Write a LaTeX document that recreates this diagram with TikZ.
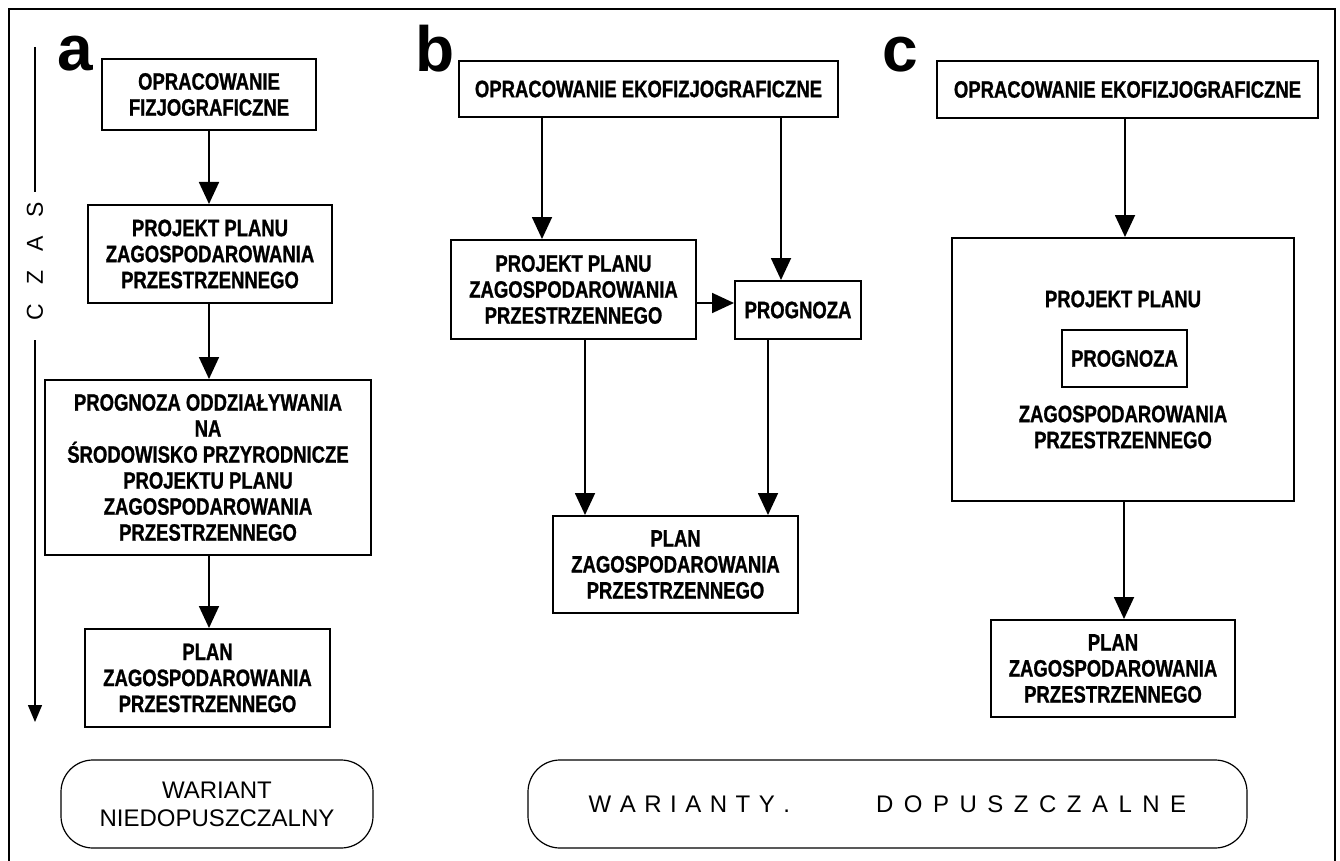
\documentclass[tikz,border=0pt]{standalone}
\usepackage{fontspec}
\setmainfont{Liberation Sans}
\newfontfamily\cnd[FakeStretch=0.78,FakeBold=1.0]{Liberation Sans}
\usetikzlibrary{arrows.meta}
\begin{document}
\begin{tikzpicture}[x=1pt,y=-1pt,
  box/.style={draw, line width=2pt, inner sep=0pt, align=center,
    font=\cnd\bfseries\fontsize{23.7}{26}\selectfont},
  txt/.style={inner sep=0pt, align=center,
    font=\cnd\bfseries\fontsize{23.7}{26}\selectfont},
  rbox/.style={draw, line width=1.2pt, rounded corners=32pt, inner sep=0pt, align=center,
    font=\fontsize{24}{28}\selectfont},
  lbl/.style={inner sep=0pt, anchor=base, font=\bfseries\fontsize{64}{64}\selectfont},
  arr/.style={line width=1.8pt, -{Triangle[length=22pt,width=20pt]}},
  frame/.style={line width=1.5pt}]
\useasboundingbox (0,0) rectangle (1340,861);
% outer frame
\draw[frame] (9,861) -- (9,9) -- (1335,9) -- (1335,861);

% ---------- panel a ----------
\node[lbl] (la) at (75,71) {a};
\node[box, minimum width=214pt, minimum height=71pt] (a1) at (209,94.5) {OPRACOWANIE\\FIZJOGRAFICZNE};
\node[box, minimum width=244pt, minimum height=98pt] (a2) at (210,254) {PROJEKT PLANU\\ZAGOSPODAROWANIA\\PRZESTRZENNEGO};
\node[box, minimum width=326pt, minimum height=175pt] (a3) at (208,467.5) {PROGNOZA ODDZIAŁYWANIA\\NA\\ŚRODOWISKO PRZYRODNICZE\\PROJEKTU PLANU\\ZAGOSPODAROWANIA\\PRZESTRZENNEGO};
\node[box, minimum width=245pt, minimum height=98pt] (a4) at (207.5,678) {PLAN\\ZAGOSPODAROWANIA\\PRZESTRZENNEGO};
\node[rbox, minimum width=312pt, minimum height=88pt] (a5) at (217,804) {WARIANT\\NIEDOPUSZCZALNY};
\draw[arr] (209,0 |- a1.south) -- (209,0 |- a2.north);
\draw[arr] (209,0 |- a2.south) -- (209,0 |- a3.north);
\draw[arr] (209,0 |- a3.south) -- (209,0 |- a4.north);

% time axis
\node[inner sep=0pt, rotate=90, font=\fontsize{23}{23}\selectfont] (czas) at (35,261) {C\kern19pt Z\kern19pt A\kern19pt S};
\coordinate (t1) at (35,47);
\coordinate (t2) at (35,192);
\coordinate (t3) at (35,340);
\coordinate (t4) at (35,722);
\draw[line width=1.3pt] (t1) -- (t2);
\draw[line width=1.3pt, -{Triangle[length=17pt,width=14pt]}] (t3) -- (t4);

% ---------- panel b ----------
\node[lbl] (lb) at (435,72) {b};
\node[box, minimum width=379pt, minimum height=56pt] (b1) at (648.5,89) {OPRACOWANIE EKOFIZJOGRAFICZNE};
\node[box, minimum width=245pt, minimum height=99pt] (b2) at (573.5,289.5) {PROJEKT PLANU\\ZAGOSPODAROWANIA\\PRZESTRZENNEGO};
\node[box, minimum width=126pt, minimum height=58pt] (b3) at (798,310) {PROGNOZA};
\node[box, minimum width=245pt, minimum height=97pt] (b4) at (675.5,564.5) {PLAN\\ZAGOSPODAROWANIA\\PRZESTRZENNEGO};
\node[rbox, minimum width=719pt, minimum height=88pt] (b5) at (887.5,804)
  {W\kern8.5pt A\kern8.5pt R\kern8.5pt I\kern8.5pt A\kern8.5pt N\kern8.5pt T\kern8.5pt Y\kern8.5pt .\hspace{86pt}D\kern10.5pt O\kern10.5pt P\kern10.5pt U\kern10.5pt S\kern10.5pt Z\kern10.5pt C\kern10.5pt Z\kern10.5pt A\kern10.5pt L\kern10.5pt N\kern10.5pt E};
\draw[arr] (542,0 |- b1.south) -- (542,0 |- b2.north);
\draw[arr] (781,0 |- b1.south) -- (781,0 |- b3.north);
\draw[arr] (b2.east |- 0,303) -- (b3.west |- 0,303);
\draw[arr] (585,0 |- b2.south) -- (585,0 |- b4.north);
\draw[arr] (768,0 |- b3.south) -- (768,0 |- b4.north);

% ---------- panel c ----------
\node[lbl] (lc) at (900,72) {c};
\node[box, minimum width=381pt, minimum height=57pt] (c1) at (1127.5,89.5) {OPRACOWANIE EKOFIZJOGRAFICZNE};
\node[box, minimum width=342pt, minimum height=263pt] (c2) at (1123,369.5) {};
\node[txt] (c2t) at (1123,299) {PROJEKT PLANU};
\node[box, minimum width=125pt, minimum height=57pt] (cp) at (1124.5,358.5) {PROGNOZA};
\node[txt] (c2b) at (1123,427) {ZAGOSPODAROWANIA\\PRZESTRZENNEGO};
\node[box, minimum width=244pt, minimum height=97pt] (c3) at (1113,668.5) {PLAN\\ZAGOSPODAROWANIA\\PRZESTRZENNEGO};
\draw[arr] (1125,0 |- c1.south) -- (1125,0 |- c2.north);
\draw[arr] (1124,0 |- c2.south) -- (1124,0 |- c3.north);
\end{tikzpicture}
\end{document}
